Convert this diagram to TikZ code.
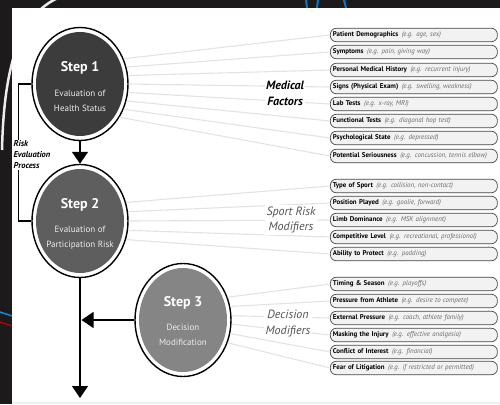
\documentclass[tikz,border=0pt]{standalone}
\usepackage{fontspec}
\setmainfont{PT Sans}
\usetikzlibrary{shapes.geometric,arrows.meta}
\definecolor{sonecol}{HTML}{3C3C3C}
\definecolor{stwocol}{HTML}{5E5E5E}
\definecolor{sthreecol}{HTML}{858585}
\definecolor{excol}{HTML}{6A6A6A}
\definecolor{bgdark}{HTML}{1C1A1A}
\begin{document}
\begin{tikzpicture}[x=1pt,y=-1pt,
  stepring/.style={ellipse, draw=black, line width=1.4pt, fill=white,
    minimum width=96pt, minimum height=113pt, inner sep=0pt},
  steptitle/.style={text=white, font=\fontsize{14}{16}\selectfont\bfseries},
  stepsub/.style={text=gray!15, align=center, font=\fontsize{9}{15}\selectfont},
  factor/.style={draw=gray!55!black, line width=0.7pt, rounded corners=6pt,
    fill=gray!10, minimum height=13.5pt, anchor=west, inner xsep=2.5pt,
    inner ysep=0pt, text width=162pt, align=left,
    font=\fontsize{6.9}{8}\selectfont},
  conn/.style={gray!22, line width=1.1pt},
  grouplabel/.style={align=center, fill=white, inner sep=1.5pt},
  arr/.style={draw=black, line width=1.3pt, -{Triangle[width=16pt,length=12pt]}},
  bracket/.style={draw=black, line width=1.2pt}
]
\useasboundingbox (0,0) rectangle (500,404);
% photo background
\fill[bgdark] (0,0) rectangle (500,404);
\draw[white!85!gray, line width=2.5pt] (58,-2) .. controls (22,14) and (4,60) .. (2,150);
\draw[cyan!55!blue, line width=2pt] (306,0) -- (307,8) (318,0) -- (317,8) (344,0) -- (346,8);
\draw[cyan!70!blue, line width=1.5pt] (0,312) -- (12,316);
\draw[red!70!black, line width=1.5pt] (0,322) -- (12,326);
% white panel
\fill[white] (12,8) rectangle (500,404);
\fill[gray!12] (12,402) rectangle (500,404);

% step circles
\node[stepring] (s1) at (80,84) {};
\fill[sonecol] (s1.center) ellipse (44 and 52);
\node[steptitle] (t1) at (80,68) {Step 1};
\node[stepsub] (d1) at (80,101) {Evaluation of\\Health Status};

\node[stepring] (s2) at (80,221) {};
\fill[stwocol] (s2.center) ellipse (44 and 52);
\node[steptitle] (t2) at (80,205) {Step 2};
\node[stepsub] (d2) at (80,238) {Evaluation of\\Participation Risk};

\node[stepring] (s3) at (183,320) {};
\fill[sthreecol] (s3.center) ellipse (44 and 52);
\node[steptitle] (t3) at (183,303) {Step 3};
\node[stepsub] (d3) at (183,335) {Decision\\Modification};

% factor boxes
\foreach \n/\y/\m/\e in {
  m1/35/Patient Demographics/{e.g. age, sex},
  m2/52/Symptoms/{e.g. pain, giving way},
  m3/70/Personal Medical History/{e.g. recurrent injury},
  m4/87/Signs (Physical Exam)/{e.g. swelling, weakness},
  m5/104/Lab Tests/{e.g. x-ray, MRI},
  m6/121/Functional Tests/{e.g. diagonal hop test},
  m7/138/Psychological State/{e.g. depressed},
  m8/156/Potential Seriousness/{e.g. concussion, tennis elbow},
  p1/186/Type of Sport/{e.g. collision, non-contact},
  p2/203/Position Played/{e.g. goalie, forward},
  p3/220/Limb Dominance/{e.g. MSK alignment},
  p4/237/Competitive Level/{e.g. recreational, professional},
  p5/254/Ability to Protect/{e.g. padding},
  q1/284/Timing \& Season/{e.g. playoffs},
  q2/301/Pressure from Athlete/{e.g. desire to compete},
  q3/318/External Pressure/{e.g. coach, athlete family},
  q4/335/Masking the Injury/{e.g. effective analgesia},
  q5/352/Conflict of Interest/{e.g. financial},
  q6/368/Fear of Litigation/{e.g. if restricted or permitted}}
{\node[factor] (\n) at (330,\y) {\mbox{\textbf{\m}\hspace{3.5pt}{\itshape\color{excol}(\e)}}};}

% connectors
\foreach \n/\a in {m1/30,m2/20,m3/10,m4/0,m5/-10,m6/-20,m7/-30,m8/-40}
  {\draw[conn] (s1.\a) -- (\n.west);}
\foreach \n/\a in {p1/22,p2/11,p3/0,p4/-11,p5/-22}
  {\draw[conn] (s2.\a) -- (\n.west);}
\foreach \n/\a in {q1/27,q2/16,q3/5,q4/-5,q5/-16,q6/-27}
  {\draw[conn] (s3.\a) -- (\n.west);}

% group labels
\node[grouplabel, font=\fontsize{12}{16}\selectfont\bfseries\itshape] (gm) at (285,93) {Medical\\Factors};
\node[grouplabel, text=gray!65!black, font=\fontsize{12}{15}\selectfont\itshape] (gp) at (291,220) {Sport Risk\\Modifiers};
\node[grouplabel, text=gray!65!black, font=\fontsize{12}{16}\selectfont\itshape] (gq) at (288,323) {Decision\\Modifiers};

% flow arrows
\coordinate (endc) at (80,398);
\draw[arr] (s1.south) -- (s2.north);
\draw[arr] (s2.south) -- (endc);
\draw[arr] (s3.west) -- ([xshift=1.5pt]s3.west -| endc);
\draw[bracket] (s1.west) -- ++(-13,0) |- (s2.west);
\node[anchor=west, fill=white, inner xsep=0.5pt, inner ysep=1pt, align=left,
  font=\fontsize{8.5}{11}\selectfont\bfseries\itshape] (rep) at (13,155)
  {Risk\\Evaluation\\Process};
\end{tikzpicture}
\end{document}
